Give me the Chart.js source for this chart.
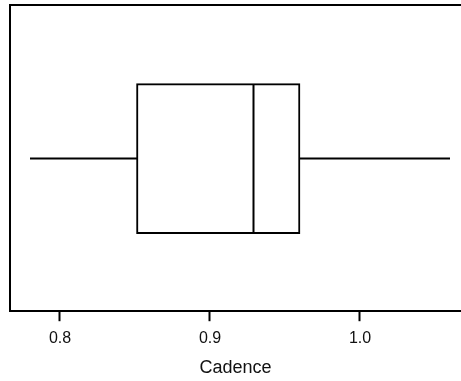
<!DOCTYPE html>
<html>
<head>
<meta charset="utf-8">
<script src="https://cdn.jsdelivr.net/npm/chart.js@4/dist/chart.umd.min.js"></script>
<style>
  html, body { margin: 0; padding: 0; background: #fff; }
  #wrap { width: 461px; height: 381px; position: relative; }
</style>
</head>
<body>
<div id="wrap"><canvas id="chartBox"></canvas></div>
<script>
// Box plot of Cadence (five-number summary)
const categories = ['Cadence'];
const whiskerLow = [0.78];
const quartile1 = [0.851];
const medians = [0.929];
const quartile3 = [0.96];
const whiskerHigh = [1.06];
const tickValues = [0.8, 0.9, 1.0];
const axisTitle = 'Cadence';

// Draws whiskers, median and the left/top frame lines with the x scale
const boxExtras = {
    id: 'boxExtras',
    afterDatasetsDraw(chart) {
        const ctx = chart.ctx;
        const x = chart.scales.x;
        const area = chart.chartArea;
        const bars = chart.getDatasetMeta(0).data;
        ctx.save();
        ctx.strokeStyle = '#000';
        ctx.lineWidth = 2;
        ctx.lineCap = 'butt';
        bars.forEach((bar, i) => {
            const half = bar.height / 2;
            const top = bar.y - half + 1;
            const bottom = bar.y + half - 1;
            const q1 = x.getPixelForValue(quartile1[i]) + 1;
            const q3 = x.getPixelForValue(quartile3[i]) - 1;
            const med = x.getPixelForValue(medians[i]);
            ctx.beginPath();
            ctx.moveTo(x.getPixelForValue(whiskerLow[i]), bar.y);
            ctx.lineTo(q1, bar.y);
            ctx.moveTo(q3, bar.y);
            ctx.lineTo(x.getPixelForValue(whiskerHigh[i]), bar.y);
            ctx.moveTo(med, top);
            ctx.lineTo(med, bottom);
            ctx.stroke();
        });
        // frame: left and top (bottom comes from the x axis border)
        ctx.beginPath();
        ctx.moveTo(area.left, area.bottom);
        ctx.lineTo(area.left, area.top - 1);
        ctx.lineTo(chart.width, area.top - 1);
        ctx.stroke();
        ctx.restore();
    }
};

const ctx = document.getElementById('chartBox').getContext('2d');
new Chart(ctx, {
    type: 'bar',
    data: {
        labels: categories,
        datasets: [{
            data: categories.map((c, i) => [quartile1[i], quartile3[i]]),
            backgroundColor: '#ffffff',
            borderColor: '#000000',
            borderWidth: 2,
            borderSkipped: false,
            barThickness: 150
        }]
    },
    options: {
        indexAxis: 'y',
        responsive: true,
        maintainAspectRatio: false,
        animation: false,
        layout: { padding: { left: 10, top: 6, right: 0, bottom: 2 } },
        plugins: {
            legend: { display: false },
            tooltip: { enabled: false }
        },
        scales: {
            x: {
                type: 'linear',
                min: 0.8 - 50 / 1500,
                max: 0.8 - 50 / 1500 + 451 / 1500,
                afterBuildTicks: (scale) => {
                    scale.ticks = tickValues.map(v => ({ value: v }));
                },
                grid: {
                    display: true,
                    drawOnChartArea: false,
                    drawTicks: true,
                    tickLength: 10,
                    tickWidth: 2,
                    tickColor: '#000'
                },
                border: { display: true, color: '#000', width: 2 },
                ticks: {
                    padding: 8,
                    color: '#111',
                    maxRotation: 0,
                    font: { family: '"Liberation Sans", Arial, sans-serif', size: 16 },
                    callback: (v) => Number(v).toFixed(1)
                },
                title: {
                    display: true,
                    text: axisTitle,
                    color: '#111',
                    padding: { top: 1, bottom: 0 },
                    font: { family: '"Liberation Sans", Arial, sans-serif', size: 18 }
                }
            },
            y: {
                display: false
            }
        }
    },
    plugins: [boxExtras]
});
</script>
</body>
</html>
